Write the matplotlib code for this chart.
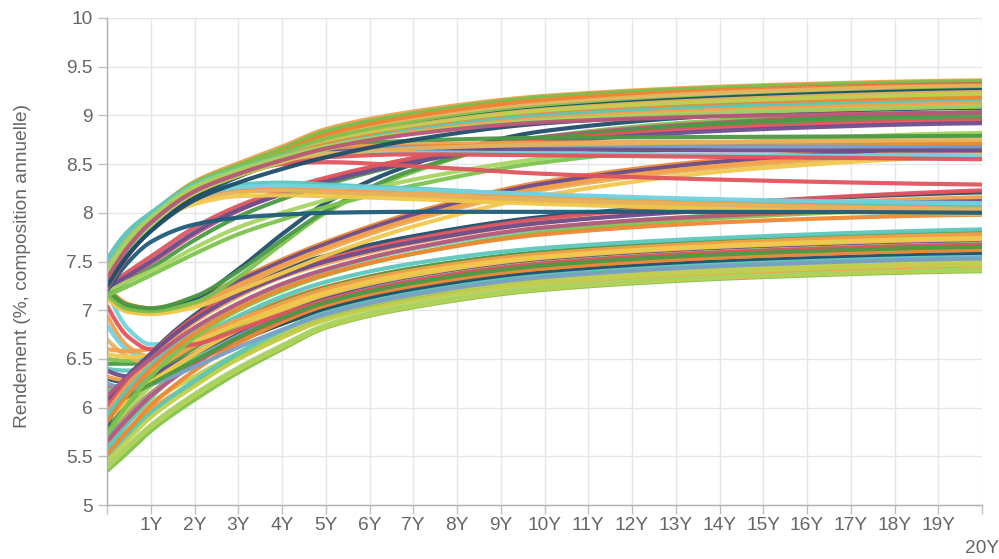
import numpy as np
import matplotlib
matplotlib.use("Agg")
import matplotlib.pyplot as plt

# ---------------- data ----------------
maturities = [0, 0.5, 1, 2, 3, 4, 5, 7, 10, 15, 20]

upper_high = [
    [7.42, 7.76, 7.98, 8.32, 8.51, 8.68, 8.86, 9.04, 9.20, 9.31, 9.36],
    [7.38, 7.72, 7.95, 8.29, 8.48, 8.65, 8.83, 9.01, 9.18, 9.29, 9.34],
    [7.44, 7.77, 7.98, 8.31, 8.49, 8.66, 8.84, 9.02, 9.19, 9.30, 9.35],
    [7.33, 7.67, 7.91, 8.26, 8.45, 8.62, 8.79, 8.98, 9.15, 9.27, 9.32],
    [7.34, 7.68, 7.92, 8.27, 8.46, 8.63, 8.80, 8.99, 9.16, 9.27, 9.31],
    [7.28, 7.62, 7.87, 8.22, 8.42, 8.59, 8.76, 8.95, 9.12, 9.25, 9.30],
    [7.46, 7.79, 7.99, 8.30, 8.47, 8.62, 8.76, 8.93, 9.09, 9.21, 9.27],
    [7.24, 7.58, 7.82, 8.16, 8.37, 8.54, 8.70, 8.90, 9.07, 9.20, 9.26],
    [7.48, 7.80, 7.99, 8.28, 8.44, 8.58, 8.72, 8.90, 9.06, 9.18, 9.24],
    [7.50, 7.81, 8.00, 8.29, 8.45, 8.58, 8.71, 8.88, 9.03, 9.15, 9.21],
    [7.29, 7.63, 7.87, 8.21, 8.40, 8.56, 8.71, 8.89, 9.05, 9.16, 9.22],
    [7.30, 7.64, 7.88, 8.20, 8.38, 8.52, 8.65, 8.83, 8.99, 9.11, 9.17],
    [7.37, 7.70, 7.93, 8.25, 8.43, 8.57, 8.70, 8.86, 9.01, 9.12, 9.18],
    [7.31, 7.65, 7.89, 8.22, 8.40, 8.55, 8.68, 8.85, 9.00, 9.10, 9.14],
    [7.36, 7.69, 7.92, 8.24, 8.41, 8.55, 8.67, 8.83, 8.97, 9.07, 9.12],
    [7.26, 7.58, 7.81, 8.13, 8.31, 8.45, 8.57, 8.75, 8.92, 9.03, 9.08],
    [7.40, 7.73, 7.95, 8.27, 8.44, 8.57, 8.68, 8.82, 8.95, 9.04, 9.09],
    [7.32, 7.66, 7.90, 8.22, 8.40, 8.54, 8.66, 8.81, 8.93, 9.00, 9.03],
]
upper_high_colors = ['#F4A04B', '#6B4E8E', '#7DC34E', '#E0555E', '#EE8833', '#E6B35F',
                     '#7DC34E', '#1F4E6A', '#E6B35F', '#5CC8BC', '#C3CF4F', '#C3CF4F',
                     '#EE8833', '#5CC8BC', '#F4A04B', '#1F4E6A', '#A6D462', '#B9587A']

upper_flat = [
    [7.35, 7.69, 7.93, 8.27, 8.46, 8.60, 8.68, 8.74, 8.77, 8.78, 8.79],
    [7.42, 7.74, 7.96, 8.28, 8.46, 8.59, 8.66, 8.70, 8.72, 8.73, 8.73],
    [7.30, 7.64, 7.89, 8.24, 8.43, 8.57, 8.64, 8.68, 8.69, 8.70, 8.71],
    [7.26, 7.60, 7.85, 8.20, 8.40, 8.54, 8.62, 8.67, 8.68, 8.68, 8.67],
    [7.28, 7.62, 7.87, 8.22, 8.42, 8.56, 8.62, 8.65, 8.65, 8.64, 8.64],
    [7.34, 7.68, 7.92, 8.26, 8.45, 8.56, 8.61, 8.62, 8.61, 8.59, 8.58],
    [7.22, 7.57, 7.82, 8.18, 8.38, 8.51, 8.57, 8.60, 8.59, 8.57, 8.55],
    [7.38, 7.70, 7.93, 8.25, 8.42, 8.54, 8.60, 8.66, 8.70, 8.73, 8.75],
    [7.25, 7.60, 7.84, 8.18, 8.38, 8.50, 8.52, 8.48, 8.40, 8.33, 8.29],
]
upper_flat_colors = ['#4B9A45', '#F4A04B', '#EE8833', '#7AA0C6', '#6B4E8E', '#72D2DF',
                     '#E0555E', '#E6B35F', '#E0555E']

hump = [
    [7.52, 7.82, 7.99, 8.20, 8.29, 8.31, 8.29, 8.25, 8.18, 8.10, 8.06],
    [7.44, 7.75, 7.94, 8.16, 8.25, 8.26, 8.25, 8.21, 8.15, 8.08, 8.04],
    [7.48, 7.78, 7.96, 8.17, 8.23, 8.23, 8.21, 8.17, 8.11, 8.05, 8.01],
    [7.38, 7.70, 7.90, 8.12, 8.21, 8.23, 8.21, 8.18, 8.13, 8.07, 8.03],
    [7.32, 7.64, 7.86, 8.09, 8.17, 8.18, 8.17, 8.14, 8.09, 8.03, 7.99],
    [7.40, 7.72, 7.92, 8.16, 8.26, 8.28, 8.27, 8.24, 8.19, 8.13, 8.10],
]
hump_colors = ['#5CC8BC', '#F4A04B', '#EE8833', '#E6B35F', '#F1C94D', '#72D2DF']

flat_eight = [
    [7.20, 7.50, 7.70, 7.88, 7.95, 7.98, 8.00, 8.01, 8.01, 8.01, 8.00],
]
flat_eight_colors = ['#1F5C7A']

mid_risers = [
    [7.22, 7.34, 7.48, 7.78, 8.02, 8.20, 8.34, 8.56, 8.78, 8.95, 9.03],
    [7.18, 7.30, 7.43, 7.72, 7.96, 8.14, 8.29, 8.52, 8.76, 8.94, 9.02],
    [7.25, 7.40, 7.55, 7.85, 8.07, 8.23, 8.36, 8.56, 8.75, 8.89, 8.95],
    [7.15, 7.25, 7.36, 7.58, 7.78, 7.93, 8.06, 8.28, 8.52, 8.72, 8.80],
    [7.20, 7.30, 7.40, 7.64, 7.85, 8.00, 8.13, 8.34, 8.56, 8.74, 8.82],
    [7.23, 7.36, 7.50, 7.80, 8.03, 8.19, 8.32, 8.52, 8.72, 8.86, 8.92],
]
mid_risers_colors = ['#B9587A', '#4B9A45', '#E0555E', '#7DC34E', '#A6D462', '#6B4E8E']

dip_steep = [
    [7.20, 7.03, 7.00, 7.12, 7.42, 7.78, 8.10, 8.50, 8.84, 9.02, 9.08],
    [7.16, 7.01, 6.99, 7.08, 7.34, 7.68, 8.00, 8.42, 8.78, 8.97, 9.03],
    [7.22, 7.05, 7.02, 7.14, 7.40, 7.72, 8.02, 8.44, 8.76, 8.92, 8.98],
]
dip_steep_colors = ['#1F4E6A', '#7DC34E', '#4B9A45']

dip_gentle = [
    [7.18, 7.02, 6.99, 7.08, 7.27, 7.47, 7.65, 7.95, 8.28, 8.55, 8.66],
    [7.24, 7.06, 7.02, 7.12, 7.32, 7.52, 7.70, 8.00, 8.32, 8.58, 8.70],
    [7.14, 6.99, 6.97, 7.06, 7.24, 7.44, 7.62, 7.92, 8.24, 8.50, 8.62],
    [7.20, 7.03, 7.00, 7.10, 7.30, 7.50, 7.68, 7.98, 8.30, 8.56, 8.68],
    [7.16, 7.01, 6.98, 7.07, 7.26, 7.46, 7.64, 7.94, 8.26, 8.52, 8.64],
    [7.12, 6.98, 6.96, 7.03, 7.20, 7.38, 7.56, 7.86, 8.18, 8.46, 8.58],
]
dip_gentle_colors = ['#F4A04B', '#EE8833', '#E6B35F', '#6B4E8E', '#F4A04B', '#F1C94D']

lower_risers = [
    [5.82, 6.25, 6.55, 6.95, 7.24, 7.42, 7.56, 7.76, 7.96, 8.12, 8.21],
    [6.02, 6.30, 6.55, 6.93, 7.20, 7.38, 7.52, 7.73, 7.94, 8.12, 8.23],
    [5.95, 6.25, 6.50, 6.88, 7.14, 7.34, 7.48, 7.69, 7.90, 8.07, 8.16],
    [6.08, 6.34, 6.55, 6.90, 7.16, 7.35, 7.50, 7.70, 7.90, 8.05, 8.12],
    [5.92, 6.20, 6.43, 6.80, 7.06, 7.26, 7.41, 7.63, 7.84, 8.00, 8.08],
    [5.72, 6.05, 6.32, 6.72, 7.00, 7.20, 7.36, 7.58, 7.80, 7.97, 8.05],
    [6.12, 6.32, 6.50, 6.82, 7.07, 7.27, 7.42, 7.64, 7.85, 7.99, 8.06],
    [5.85, 6.15, 6.40, 6.76, 7.02, 7.22, 7.37, 7.58, 7.78, 7.92, 7.98],
]
lower_risers_colors = ['#1F4E6A', '#E0555E', '#F4A04B', '#6B4E8E', '#5CC8BC', '#7DC34E',
                       '#B9587A', '#EE8833']

lower = [
    [5.35, 5.55, 5.76, 6.08, 6.36, 6.60, 6.82, 7.03, 7.21, 7.34, 7.40],
    [5.38, 5.60, 5.80, 6.12, 6.39, 6.62, 6.83, 7.04, 7.22, 7.35, 7.41],
    [5.40, 5.62, 5.82, 6.14, 6.41, 6.64, 6.85, 7.06, 7.24, 7.37, 7.43],
    [5.55, 5.78, 5.98, 6.26, 6.50, 6.72, 6.91, 7.11, 7.28, 7.40, 7.46],
    [5.50, 5.74, 5.95, 6.25, 6.52, 6.74, 6.93, 7.13, 7.30, 7.42, 7.48],
    [5.62, 5.86, 6.05, 6.32, 6.56, 6.77, 6.95, 7.15, 7.32, 7.44, 7.50],
    [6.45, 6.45, 6.48, 6.56, 6.70, 6.86, 7.00, 7.19, 7.36, 7.48, 7.54],
    [5.48, 5.72, 5.94, 6.28, 6.56, 6.79, 6.98, 7.19, 7.37, 7.50, 7.56],
    [6.30, 6.26, 6.30, 6.48, 6.68, 6.86, 7.02, 7.22, 7.40, 7.53, 7.59],
    [5.70, 5.95, 6.15, 6.45, 6.70, 6.90, 7.06, 7.26, 7.43, 7.56, 7.62],
    [5.68, 5.92, 6.14, 6.46, 6.72, 6.92, 7.08, 7.27, 7.44, 7.56, 7.62],
    [7.20, 6.80, 6.65, 6.66, 6.78, 6.93, 7.07, 7.27, 7.45, 7.58, 7.64],
    [5.52, 5.78, 6.02, 6.38, 6.66, 6.88, 7.05, 7.25, 7.43, 7.56, 7.62],
    [6.22, 6.22, 6.28, 6.50, 6.72, 6.91, 7.08, 7.29, 7.47, 7.60, 7.66],
    [6.32, 6.28, 6.32, 6.52, 6.74, 6.93, 7.09, 7.29, 7.47, 7.60, 7.66],
    [5.95, 6.15, 6.34, 6.62, 6.85, 7.03, 7.17, 7.36, 7.52, 7.64, 7.70],
    [6.95, 6.62, 6.52, 6.60, 6.78, 6.96, 7.12, 7.32, 7.50, 7.63, 7.69],
    [6.18, 6.20, 6.28, 6.52, 6.76, 6.95, 7.11, 7.31, 7.49, 7.62, 7.68],
    [5.60, 5.88, 6.12, 6.46, 6.73, 6.94, 7.11, 7.31, 7.49, 7.62, 7.68],
    [5.58, 5.85, 6.10, 6.48, 6.76, 6.97, 7.13, 7.34, 7.52, 7.66, 7.72],
    [6.40, 6.38, 6.42, 6.58, 6.78, 6.96, 7.12, 7.32, 7.50, 7.63, 7.69],
    [6.50, 6.48, 6.50, 6.64, 6.84, 7.02, 7.17, 7.37, 7.55, 7.68, 7.74],
    [6.85, 6.58, 6.50, 6.60, 6.80, 6.98, 7.13, 7.33, 7.51, 7.64, 7.70],
    [6.05, 6.25, 6.42, 6.70, 6.92, 7.10, 7.24, 7.43, 7.59, 7.71, 7.77],
    [6.70, 6.52, 6.45, 6.58, 6.80, 6.99, 7.15, 7.36, 7.54, 7.67, 7.73],
    [5.75, 6.00, 6.22, 6.55, 6.80, 7.00, 7.16, 7.35, 7.52, 7.65, 7.71],
    [5.78, 6.05, 6.28, 6.62, 6.88, 7.08, 7.23, 7.43, 7.60, 7.73, 7.80],
    [6.38, 6.32, 6.35, 6.55, 6.78, 6.98, 7.14, 7.35, 7.53, 7.66, 7.72],
    [6.08, 6.22, 6.37, 6.64, 6.88, 7.07, 7.22, 7.41, 7.58, 7.71, 7.78],
    [6.15, 6.28, 6.42, 6.70, 6.94, 7.14, 7.29, 7.48, 7.64, 7.76, 7.83],
    [5.65, 5.90, 6.12, 6.45, 6.72, 6.93, 7.09, 7.30, 7.48, 7.61, 7.67],
    [6.60, 6.58, 6.60, 6.72, 6.90, 7.06, 7.20, 7.39, 7.56, 7.69, 7.75],
    [6.55, 6.52, 6.54, 6.68, 6.86, 7.03, 7.18, 7.38, 7.55, 7.68, 7.74],
    [5.45, 5.68, 5.90, 6.22, 6.50, 6.72, 6.90, 7.10, 7.28, 7.41, 7.47],
    [6.25, 6.20, 6.24, 6.42, 6.62, 6.80, 6.96, 7.16, 7.34, 7.47, 7.53],
    [5.88, 6.08, 6.26, 6.55, 6.80, 7.00, 7.16, 7.36, 7.54, 7.67, 7.73],
    [7.05, 6.72, 6.60, 6.65, 6.80, 6.96, 7.10, 7.30, 7.48, 7.61, 7.67],
    [6.00, 6.12, 6.24, 6.48, 6.72, 6.92, 7.08, 7.28, 7.46, 7.59, 7.65],
]
lower_colors = ['#7DC34E', '#C3CF4F', '#A6D462', '#F4A04B', '#7DC34E', '#C3CF4F',
                '#4B9A45', '#5CC8BC', '#1F4E6A', '#EE8833', '#7AA0C6', '#72D2DF',
                '#EE8833', '#E0555E', '#F4A04B', '#7AA0C6', '#F4A04B', '#7DC34E',
                '#F4A04B', '#5CC8BC', '#5CC8BC', '#7DC34E', '#72D2DF', '#EE8833',
                '#E6B35F', '#A6D462', '#4B9A45', '#6B4E8E', '#F4A04B', '#5CC8BC',
                '#B9587A', '#F4A04B', '#F1C94D', '#C3CF4F', '#7AA0C6', '#F1C94D',
                '#E0555E', '#4B9A45']

x_tick_labels = ['%dY' % i for i in range(1, 21)]
y_ticks = [5, 5.5, 6, 6.5, 7, 7.5, 8, 8.5, 9, 9.5, 10]
y_tick_labels = ['5', '5.5', '6', '6.5', '7', '7.5', '8', '8.5', '9', '9.5', '10']
y_label = 'Rendement (%, composition annuelle)'


# ------------- smooth (monotone cubic) drawing of each series -------------
def pchip(x, y, xs):
    x = np.asarray(x, float)
    y = np.asarray(y, float)
    h = np.diff(x)
    d = np.diff(y) / h
    n = len(x)
    m = np.zeros(n)
    for k in range(1, n - 1):
        if d[k - 1] * d[k] > 0:
            w1 = 2 * h[k] + h[k - 1]
            w2 = h[k] + 2 * h[k - 1]
            m[k] = (w1 + w2) / (w1 / d[k - 1] + w2 / d[k])
    def end(h0, h1, d0, d1):
        s = ((2 * h0 + h1) * d0 - h0 * d1) / (h0 + h1)
        if np.sign(s) != np.sign(d0):
            s = 0.0
        elif np.sign(d0) != np.sign(d1) and abs(s) > abs(3 * d0):
            s = 3 * d0
        return s
    m[0] = end(h[0], h[1], d[0], d[1])
    m[-1] = end(h[-1], h[-2], d[-1], d[-2])
    idx = np.clip(np.searchsorted(x, xs) - 1, 0, n - 2)
    t = (xs - x[idx]) / h[idx]
    h00 = 2 * t**3 - 3 * t**2 + 1
    h10 = t**3 - 2 * t**2 + t
    h01 = -2 * t**3 + 3 * t**2
    h11 = t**3 - t**2
    return h00 * y[idx] + h10 * h[idx] * m[idx] + h01 * y[idx + 1] + h11 * h[idx] * m[idx + 1]


FS = 13.8
fig = plt.figure(figsize=(9.99, 5.59), dpi=100)
ax = fig.add_axes([107 / 999, 54 / 559, 875 / 999, 487 / 559])

xs = np.linspace(0, 20, 500)
groups = [
    (lower, lower_colors),
    (lower_risers, lower_risers_colors),
    (dip_gentle, dip_gentle_colors),
    (dip_steep, dip_steep_colors),
    (mid_risers, mid_risers_colors),
    (hump, hump_colors),
    (flat_eight, flat_eight_colors),
    (upper_flat, upper_flat_colors),
    (upper_high, upper_high_colors),
]
for series, colors in groups:
    for vals, c in zip(series, colors):
        ax.plot(xs, pchip(maturities, vals, xs), color=c, lw=3.0,
                solid_capstyle='butt', alpha=0.95, zorder=3)

ax.set_xlim(0, 20)
ax.set_ylim(5, 10)
ax.set_xticks(range(0, 21))
ax.set_xticklabels([''] + x_tick_labels[:-1] + [''])
ax.set_yticks(y_ticks)
ax.set_yticklabels(y_tick_labels)
ax.annotate(x_tick_labels[-1], xy=(20, 0), xycoords=('data', 'axes fraction'),
            xytext=(0, -31), textcoords='offset points', ha='center', va='center',
            fontsize=FS, color='#666666', family='Liberation Sans')

ax.grid(True, color='#e6e6e6', lw=1, zorder=0)
ax.set_axisbelow(True)
for s in ['top', 'right']:
    ax.spines[s].set_visible(False)
for s in ['left', 'bottom']:
    ax.spines[s].set_color('#b0b0b0')
    ax.spines[s].set_linewidth(1)
    ax.spines[s].set_zorder(5)
ax.tick_params(axis='both', colors='#c0c0c0', length=6.5, width=1,
               labelcolor='#666666', labelsize=FS)
ax.tick_params(axis='x', pad=2)
ax.tick_params(axis='y', pad=4)
for lbl in ax.get_xticklabels() + ax.get_yticklabels():
    lbl.set_family('Liberation Sans')

ax.set_ylabel(y_label, fontsize=FS, color='#666666', family='Liberation Sans')
ax.yaxis.set_label_coords(-0.087, 0.49)

fig.savefig('out.png', dpi=100)
